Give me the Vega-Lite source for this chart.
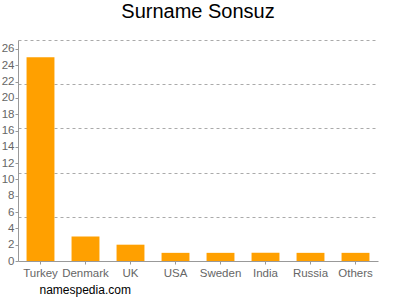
{
  "$schema": "https://vega.github.io/schema/vega-lite/v6.json",
  "width": 360,
  "height": 221,
  "autosize": {"type": "none"},
  "padding": {"left": 18, "top": 40, "right": 22, "bottom": 39},
  "background": "white",
  "title": {
    "text": "Surname Sonsuz",
    "font": "Liberation Sans",
    "fontSize": 20,
    "fontWeight": "normal",
    "color": "#000000",
    "anchor": "middle",
    "offset": 18
  },
  "data": {
    "values": [
      {"country": "Turkey", "count": 25},
      {"country": "Denmark", "count": 3},
      {"country": "UK", "count": 2},
      {"country": "USA", "count": 1},
      {"country": "Sweden", "count": 1},
      {"country": "India", "count": 1},
      {"country": "Russia", "count": 1},
      {"country": "Others", "count": 1}
    ]
  },
  "encoding": {
    "x": {
      "field": "country",
      "type": "nominal",
      "sort": null,
      "scale": {"paddingInner": 0.38, "paddingOuter": 0.19},
      "axis": {
        "title": "namespedia.com",
        "titleAnchor": "start",
        "titleAlign": "left",
        "titleX": 21,
        "titlePadding": 6,
        "titleFont": "Liberation Sans",
        "titleFontSize": 12,
        "titleFontWeight": "normal",
        "titleColor": "#000000",
        "labelAngle": 0,
        "labelFont": "Liberation Sans",
        "labelFontSize": 11.5,
        "labelColor": "#666666",
        "labelPadding": 3,
        "domainColor": "#999999",
        "tickColor": "#999999",
        "tickSize": 3,
        "grid": false
      }
    }
  },
  "layer": [
    {
      "mark": {"type": "bar", "color": "#ffa000"},
      "encoding": {
        "y": {
          "field": "count",
          "type": "quantitative",
          "scale": {"domain": [0, 27.1], "nice": false},
          "axis": {
            "title": null,
            "values": [0, 2, 4, 6, 8, 10, 12, 14, 16, 18, 20, 22, 24, 26],
            "grid": false,
            "labelFont": "Liberation Sans",
            "labelFontSize": 11.5,
            "labelColor": "#666666",
            "labelPadding": 1,
            "domainColor": "#999999",
            "tickColor": "#999999",
            "tickSize": 3
          }
        }
      }
    },
    {
      "mark": {"type": "bar", "opacity": 0},
      "encoding": {
        "y": {
          "field": "count",
          "type": "quantitative",
          "scale": {"domain": [0, 27.1], "nice": false},
          "axis": {
            "title": null,
            "orient": "left",
            "values": [5.42, 10.84, 16.26, 21.68, 27.1],
            "grid": true,
            "gridDash": [3, 3],
            "gridColor": "#aaaaaa",
            "gridWidth": 1,
            "labels": false,
            "ticks": false,
            "domain": false
          }
        }
      }
    }
  ],
  "resolve": {"axis": {"y": "independent"}},
  "config": {"view": {"stroke": null}}
}
